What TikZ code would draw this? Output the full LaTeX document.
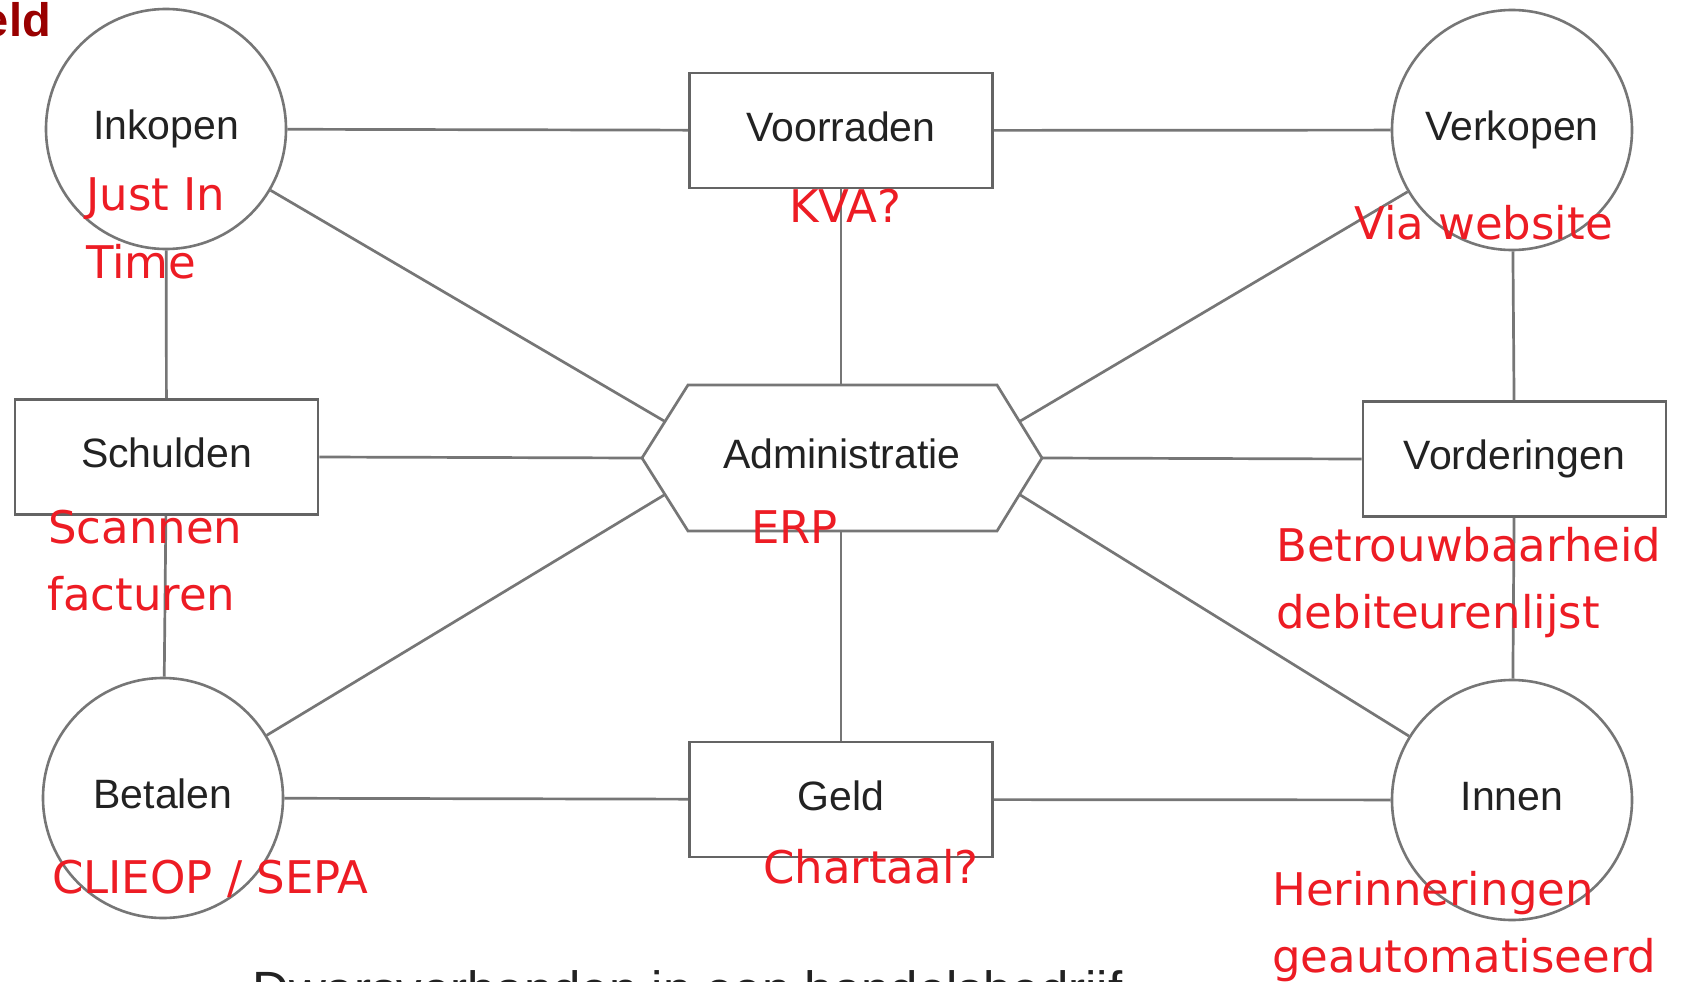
\documentclass[tikz,border=0pt]{standalone}
\usepackage{fontspec}
\setmainfont{Liberation Sans}
\newfontfamily\redfont{DejaVu Sans}
\definecolor{redtxt}{RGB}{237,28,36}
\definecolor{darkredtxt}{RGB}{153,0,0}
\definecolor{linegray}{RGB}{118,118,118}
\definecolor{boxgray}{RGB}{100,100,100}
\definecolor{labelgray}{RGB}{34,34,34}
\begin{document}
\begin{tikzpicture}[x=1pt,y=-1pt,
  conn/.style={draw=linegray, line width=2.7pt},
  lbl/.style={text=labelgray, font=\fontsize{41}{49}\selectfont, text height=29pt, text depth=8pt},
  boxnode/.style={lbl, draw=boxgray, line width=2.9pt, minimum width=303pt, minimum height=115pt, inner sep=0pt},
  circnode/.style={lbl, circle, draw=linegray, line width=2.6pt, minimum size=240pt, inner sep=0pt},
  hexline/.style={draw=linegray, line width=2.7pt, line join=miter},
  note/.style={anchor=base west, inner sep=0pt, text=redtxt, font=\redfont\fontsize{45}{54}\selectfont},
]
\useasboundingbox[fill=white] (0,0) rectangle (1682,982);

% nodes
\node[circnode] (inkopen) at (166,129) {Inkopen};
\node[boxnode] (voorraden) at (841,130.5) {Voorraden};
\node[circnode] (verkopen) at (1512,130) {Verkopen};
\node[boxnode] (schulden) at (166.5,457) {Schulden};
\node[boxnode] (vorderingen) at (1514.5,459) {Vorderingen};
\node[circnode] (betalen) at (163,798) {Betalen};
\node[boxnode] (geld) at (841,799.5) {Geld};
\node[circnode] (innen) at (1512,800) {Innen};

% administratie hexagon
\node[lbl, inner sep=0pt, minimum width=400pt, minimum height=146pt] (admin) at (842,458) {Administratie};
\coordinate (hW) at (642,458);
\coordinate (hNW) at (688,385);
\coordinate (hNE) at (997,385);
\coordinate (hE) at (1042,458);
\coordinate (hSE) at (997,531);
\coordinate (hSW) at (688,531);
\coordinate (hN) at (841,385);
\coordinate (hS) at (841,531);
\coordinate (aNW) at (665,421.5);
\coordinate (aNE) at (1019.5,421.5);
\coordinate (aSE) at (1019.5,494.5);
\coordinate (aSW) at (665,494.5);
\draw[hexline] (hW) -- (hNW) -- (hNE) -- (hE) -- (hSE) -- (hSW) -- cycle;

% connectors
\draw[conn] (inkopen) -- (voorraden);
\draw[conn] (voorraden) -- (verkopen);
\draw[conn] (inkopen) -- (schulden);
\draw[conn] (schulden) -- (betalen);
\draw[conn] (verkopen) -- (vorderingen);
\draw[conn] (vorderingen) -- (innen);
\draw[conn] (betalen) -- (geld);
\draw[conn] (geld) -- (innen);
\draw[conn] (schulden.east) -- (hW);
\draw[conn] (hE) -- (vorderingen.west);
\draw[conn] (voorraden.south) -- (hN);
\draw[conn] (hS) -- (geld.north);
\draw[conn] (inkopen) -- (aNW);
\draw[conn] (verkopen) -- (aNE);
\draw[conn] (betalen) -- (aSW);
\draw[conn] (innen) -- (aSE);

% red notes
\node[note] (jit1) at (86,210) {Just In};
\node[note] (jit2) at (86,278) {Time};
\node[note] (kva) at (789,222) {KVA?};
\node[note] (via) at (1354,239) {Via website};
\node[note] (erp) at (751,543) {ERP};
\node[note] (scan1) at (48,543) {Scannen};
\node[note] (scan2) at (47,610) {facturen};
\node[note] (betr1) at (1276,561) {Betrouwbaarheid};
\node[note] (betr2) at (1276,628) {debiteurenlijst};
\node[note] (clieop) at (52,893) {CLIEOP / SEPA};
\node[note] (chart) at (763,883) {Chartaal?};
\node[note] (her1) at (1272,905) {Herinneringen};
\node[note] (her2) at (1272,972) {geautomatiseerd};

% cut-off texts
\node[anchor=base east, inner sep=0pt, text=darkredtxt, font=\bfseries\fontsize{47}{56}\selectfont] (eld) at (51,37) {eld};
\node[anchor=base west, inner sep=0pt, text=labelgray, font=\fontsize{51}{60}\selectfont] (caption) at (252,1007) {Dwarsverbanden in een handelsbedrijf};
\end{tikzpicture}
\end{document}
